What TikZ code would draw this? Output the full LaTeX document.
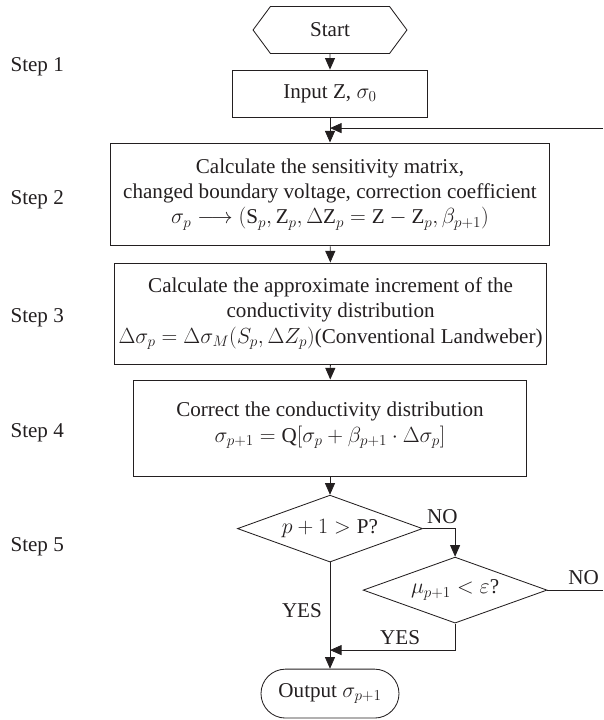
\documentclass[tikz,border=0pt]{standalone}
\usepackage{amsmath}
\usepackage{fontspec}
\setmainfont{Liberation Serif}
\usetikzlibrary{arrows.meta,shapes.geometric,shapes.misc,shapes.symbols}
\definecolor{FlowBlack}{HTML}{231F20}

\begin{document}
\begin{tikzpicture}[>={Triangle[length=11pt,width=9.5pt]}, line width=0.8pt,
  font=\fontsize{20}{24}\selectfont, color=FlowBlack,
  stepbox/.style={draw, rectangle, align=center, inner sep=0pt},
  decision/.style={draw, diamond, aspect=2.8, inner sep=0pt},
  steplabel/.style={anchor=west}]
  \useasboundingbox (-11,12) rectangle (9.1,-12);

  % Step numbers down the left margin.
  \foreach \k/\y in {1/9.77,2/5.33,3/1.4,4/-2.43,5/-6.23}{
    \node[steplabel] (step\k) at (-10.78,\y) {Step \k};
  }

  % Main column of the iteration.
  \node[draw, signal, signal to=west and east, signal pointer angle=107,
    minimum width=5.13cm, minimum height=1.57cm, inner sep=0pt] (start) at (0,11) {Start};
  \node[stepbox, minimum width=6.5cm, minimum height=1.57cm] (input) at (0,8.88)
    {Input Z, $\sigma_0$};
  \node[stepbox, minimum width=14.63cm, minimum height=3.43cm] (sens) at (0,5.52)
    {Calculate the sensitivity matrix,\\changed boundary voltage, correction coefficient\\
     $\sigma_p \longrightarrow (\mathrm{S}_p, \mathrm{Z}_p, \Delta\mathrm{Z}_p = \mathrm{Z} - \mathrm{Z}_p, \beta_{p+1})$};
  \node[stepbox, minimum width=14.4cm, minimum height=3.37cm] (incr) at (0.02,1.55)
    {Calculate the approximate increment of the\\conductivity distribution\\
     $\Delta\sigma_p = \Delta\sigma_M(S_p, \Delta Z_p)$(Conventional Landweber)};
  \node[stepbox, minimum width=13.1cm, minimum height=3.23cm] (corr) at (0,-2.28)
    {Correct the conductivity distribution\\
     $\sigma_{p+1} = \mathrm{Q}[\sigma_p + \beta_{p+1}\cdot\Delta\sigma_p]$\\[-12pt]};
  \node[decision, minimum width=6.17cm, minimum height=2.23cm] (maxit) at (0,-5.62)
    {$p + 1 > \mathrm{P}$?};
  \node[decision, minimum width=6.13cm, minimum height=2.2cm] (conv) at (4.17,-7.67)
    {$\mu_{p+1} < \varepsilon$?};
  \node[draw, rounded rectangle, minimum width=4.6cm, minimum height=1.63cm,
    inner sep=0pt] (out) at (0,-11.12) {Output $\sigma_{p+1}$};

  % Loop ends leave the picture on the right.
  \coordinate (loopin) at (9.1,7.73);
  \coordinate (loopout) at (9.1,-7.67);
  \coordinate (yesjoin) at (0,-9.67);

  \draw[->] (start) -- (input);
  \draw[->] (input) -- (sens);
  \draw[->] (loopin) -- (loopin -| input.south);
  \draw[->] (sens) -- (incr);
  \draw[->] (incr) -- (corr);
  \draw[->] (corr) -- (maxit);
  \draw[->] (maxit.east) -| (conv.north)
    node[pos=0.3, above=1pt] {NO};
  \draw (conv.east) -- (loopout)
    node[pos=0.65, above=1pt] {NO};
  \draw[->] (maxit.south) -- (out.north)
    node[pos=0.45, left=4pt] {YES};
  \draw[->] (conv.south) |- (yesjoin)
    node[pos=0.72, above=1pt] {YES};
\end{tikzpicture}
\end{document}
